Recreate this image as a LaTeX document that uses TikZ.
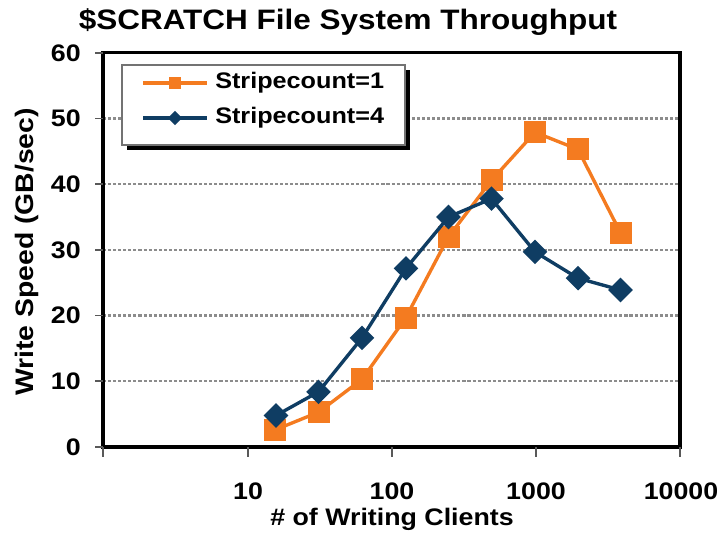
\documentclass[tikz,border=0pt]{standalone}
\usepackage{fontspec}
\setmainfont{Liberation Sans}[FakeStretch=1.12]
\usepackage{xcolor}
\usepackage{tikz}
\usetikzlibrary{shapes.geometric}
\definecolor{cOne}{HTML}{F47B20}
\definecolor{cFour}{HTML}{0F3D63}
\definecolor{cGrid}{HTML}{8C8C8C}
\tikzset{
  gridln/.style  = {draw=cGrid, line width=1.6pt, dash pattern=on 2.2pt off 1.4pt},
  axln/.style    = {draw=black, line width=2.4pt},
  tck/.style     = {draw=black!65, line width=1.2pt},
  ticklab/.style = {font=\fontsize{17}{20}\selectfont\bfseries, inner sep=0pt},
  ttl/.style     = {font=\fontsize{20}{24}\selectfont\bfseries, inner sep=0pt},
  ser1/.style    = {draw=cOne, line width=2.4pt, line join=round},
  ser4/.style    = {draw=cFour, line width=2.4pt, line join=round},
  sq/.style      = {rectangle, fill=cOne, minimum size=0.55cm, inner sep=0pt},
  dm/.style      = {diamond, fill=cFour, minimum size=0.62cm, inner sep=0pt},
  legbox/.style  = {rectangle, minimum width=7.075cm, minimum height=2cm, inner sep=0pt},
}

\begin{document}
\begin{tikzpicture}[x=0.025cm, y=0.025cm]
  \useasboundingbox (0,0) rectangle (720,534);
  \node[ttl] (title) at (348,512) {\$SCRATCH File System Throughput};

  % grid
  \draw[gridln] (103,152.7) -- (680,152.7); \draw[gridln] (103,218.4) -- (680,218.4);
  \draw[gridln] (103,284.1) -- (680,284.1); \draw[gridln] (103,349.8) -- (680,349.8);
  \draw[gridln] (103,415.5) -- (680,415.5);

  % frame and ticks
  \draw[axln] (103,87) rectangle (680,481.2);
  \draw[tck] (95,87) -- (103,87);       \draw[tck] (95,152.7) -- (103,152.7);
  \draw[tck] (95,218.4) -- (103,218.4); \draw[tck] (95,284.1) -- (103,284.1);
  \draw[tck] (95,349.8) -- (103,349.8); \draw[tck] (95,415.5) -- (103,415.5);
  \draw[tck] (95,481.2) -- (103,481.2);
  \draw[tck] (103,87) -- (103,77); \draw[tck] (248,87) -- (248,77);
  \draw[tck] (392,87) -- (392,77); \draw[tck] (536,87) -- (536,77);
  \draw[tck] (680,87) -- (680,77);

  \node[ticklab, anchor=east] (y0) at (81,87) {0};
  \node[ticklab, anchor=east] (y10) at (81,152.7) {10};
  \node[ticklab, anchor=east] (y20) at (81,218.4) {20};
  \node[ticklab, anchor=east] (y30) at (81,284.1) {30};
  \node[ticklab, anchor=east] (y40) at (81,349.8) {40};
  \node[ticklab, anchor=east] (y50) at (81,415.5) {50};
  \node[ticklab, anchor=east] (y60) at (81,481.2) {60};
  \node[ticklab] (x10) at (248,43) {10};
  \node[ticklab] (x100) at (392,43) {100};
  \node[ticklab] (x1k) at (536,43) {1000};
  \node[ticklab] (x10k) at (681,43) {10000};

  \node[ticklab] (xtitle) at (392,15) {\# of Writing Clients};
  \node[ticklab, font=\fontsize{18}{22}\selectfont\bfseries, rotate=90] (ytitle) at (27,282) {Write Speed (GB/sec)};

  % Stripecount=1
  \coordinate (a1) at (275,104.1);   \coordinate (a2) at (318.5,121.8);
  \coordinate (a3) at (362,154.7);   \coordinate (a4) at (405.5,215.8);
  \coordinate (a5) at (448.5,297.2); \coordinate (a6) at (491.5,353.7);
  \coordinate (a7) at (535,401.7);   \coordinate (a8) at (578,384.6);
  \coordinate (a9) at (620.5,301.2);
  \draw[ser1] (a1) -- (a2) -- (a3) -- (a4) -- (a5) -- (a6) -- (a7) -- (a8) -- (a9);
  \node[sq] at (a1) {}; \node[sq] at (a2) {}; \node[sq] at (a3) {};
  \node[sq] at (a4) {}; \node[sq] at (a5) {}; \node[sq] at (a6) {};
  \node[sq] at (a7) {}; \node[sq] at (a8) {}; \node[sq] at (a9) {};

  % Stripecount=4
  \coordinate (b1) at (276,118.5);   \coordinate (b2) at (318.5,142.2);
  \coordinate (b3) at (362,196.1);   \coordinate (b4) at (406,265.7);
  \coordinate (b5) at (448.5,317);   \coordinate (b6) at (491.5,335.3);
  \coordinate (b7) at (535,282.1);   \coordinate (b8) at (578,255.8);
  \coordinate (b9) at (620.5,244);
  \draw[ser4] (b1) -- (b2) -- (b3) -- (b4) -- (b5) -- (b6) -- (b7) -- (b8) -- (b9);
  \node[dm] at (b1) {}; \node[dm] at (b2) {}; \node[dm] at (b3) {};
  \node[dm] at (b4) {}; \node[dm] at (b5) {}; \node[dm] at (b6) {};
  \node[dm] at (b7) {}; \node[dm] at (b8) {}; \node[dm] at (b9) {};

  % legend
  \node[legbox, fill=black] (legsh) at (268.5,424) {};
  \node[legbox, fill=white, draw=black!55, line width=1.2pt] (leg) at (263.5,429) {};
  \coordinate (l1a) at (143,451); \coordinate (l1b) at (207,451);
  \coordinate (l4a) at (143,416); \coordinate (l4b) at (207,416);
  \draw[ser1] (l1a) -- (l1b); \node[sq, minimum size=0.32cm] (m1) at (175,451) {};
  \draw[ser4] (l4a) -- (l4b); \node[dm, minimum size=0.36cm] (m4) at (175,416) {};
  \node[ticklab, font=\fontsize{16}{19}\selectfont\bfseries, anchor=west] (t1) at (215,451) {Stripecount=1};
  \node[ticklab, font=\fontsize{16}{19}\selectfont\bfseries, anchor=west] (t4) at (215,416) {Stripecount=4};
\end{tikzpicture}
\end{document}
